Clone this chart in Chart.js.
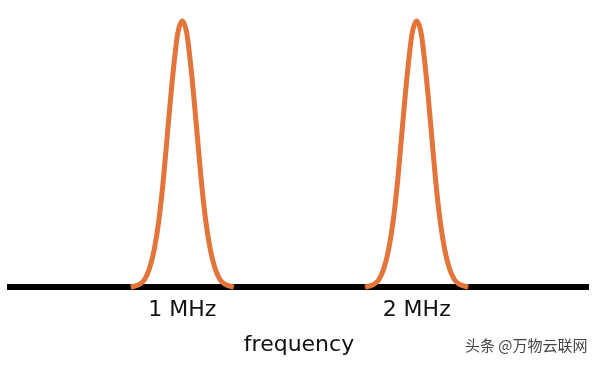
<!DOCTYPE html>
<html>
<head>
<meta charset="utf-8">
<script src="https://cdn.jsdelivr.net/npm/chart.js@4/dist/chart.umd.min.js"></script>
<style>
  html, body { margin: 0; padding: 0; background: #ffffff; }
  #wrap { position: relative; width: 600px; height: 366px; }
  #c { display: block; }
  #wm { position: absolute; left: 465px; top: 335px; font-family: "Noto Sans CJK SC", sans-serif; font-size: 15px; color: #444; white-space: nowrap; line-height: 20px; text-shadow: 0 0 1px #fff; }
</style>
</head>
<body>
<div id="wrap">
  <canvas id="c" width="600" height="366"></canvas>
  <div id="wm">头条 @万物云联网</div>
</div>
<script>
// Tick labels and axis title
const tickValues = [1, 2];
const tickLabels = ["1 MHz", "2 MHz"];
const axisTitle = "frequency";

// Peak 1 (around 1 MHz): frequency (MHz) and relative amplitude
const freq1 = [0.78, 0.80, 0.82, 0.84, 0.86, 0.88, 0.90, 0.92, 0.94, 0.96, 0.98, 1.00, 1.02, 1.04, 1.06, 1.08, 1.10, 1.12, 1.14, 1.16, 1.18, 1.20, 1.22];
const amp1  = [0.00, 0.005, 0.012, 0.03, 0.07, 0.14, 0.25, 0.41, 0.61, 0.80, 0.95, 1.00, 0.95, 0.80, 0.61, 0.41, 0.25, 0.14, 0.07, 0.03, 0.012, 0.005, 0.00];

// Peak 2 (around 2 MHz)
const freq2 = [1.78, 1.80, 1.82, 1.84, 1.86, 1.88, 1.90, 1.92, 1.94, 1.96, 1.98, 2.00, 2.02, 2.04, 2.06, 2.08, 2.10, 2.12, 2.14, 2.16, 2.18, 2.20, 2.22];
const amp2  = [0.00, 0.005, 0.012, 0.03, 0.07, 0.14, 0.25, 0.41, 0.61, 0.80, 0.95, 1.00, 0.95, 0.80, 0.61, 0.41, 0.25, 0.14, 0.07, 0.03, 0.012, 0.005, 0.00];

const toPts = (xs, ys) => xs.map((x, i) => ({ x: x, y: ys[i] }));
const ORANGE = "#E3743A";

new Chart(document.getElementById("c"), {
  type: "line",
  data: {
    datasets: [
      { data: toPts(freq1, amp1), borderColor: ORANGE, borderWidth: 5, pointRadius: 0, fill: false, cubicInterpolationMode: "monotone", clip: false },
      { data: toPts(freq2, amp2), borderColor: ORANGE, borderWidth: 5, pointRadius: 0, fill: false, cubicInterpolationMode: "monotone", clip: false }
    ]
  },
  options: {
    responsive: false,
    animation: false,
    devicePixelRatio: 1,
    layout: { padding: { top: 21, left: 10, right: 12, bottom: 8 } },
    plugins: { legend: { display: false }, tooltip: { enabled: false } },
    scales: {
      x: {
        type: "linear",
        min: 0.265,
        max: 2.731,
        z: 1,
        afterBuildTicks: (scale) => { scale.ticks = tickValues.map(v => ({ value: v })); },
        grid: { display: false, drawTicks: false },
        border: { display: true, color: "#000000", width: 6 },
        ticks: {
          autoSkip: false,
          maxRotation: 0,
          padding: 10,
          color: "#111111",
          font: { family: "DejaVu Sans", size: 22 },
          callback: (v) => { const i = tickValues.indexOf(v); return i >= 0 ? tickLabels[i] : ""; }
        },
        title: {
          display: true,
          text: axisTitle,
          color: "#111111",
          font: { family: "DejaVu Sans", size: 22 },
          padding: { top: -2, bottom: 0 }
        }
      },
      y: { display: false, min: 0, max: 1 }
    }
  }
});
</script>
</body>
</html>
